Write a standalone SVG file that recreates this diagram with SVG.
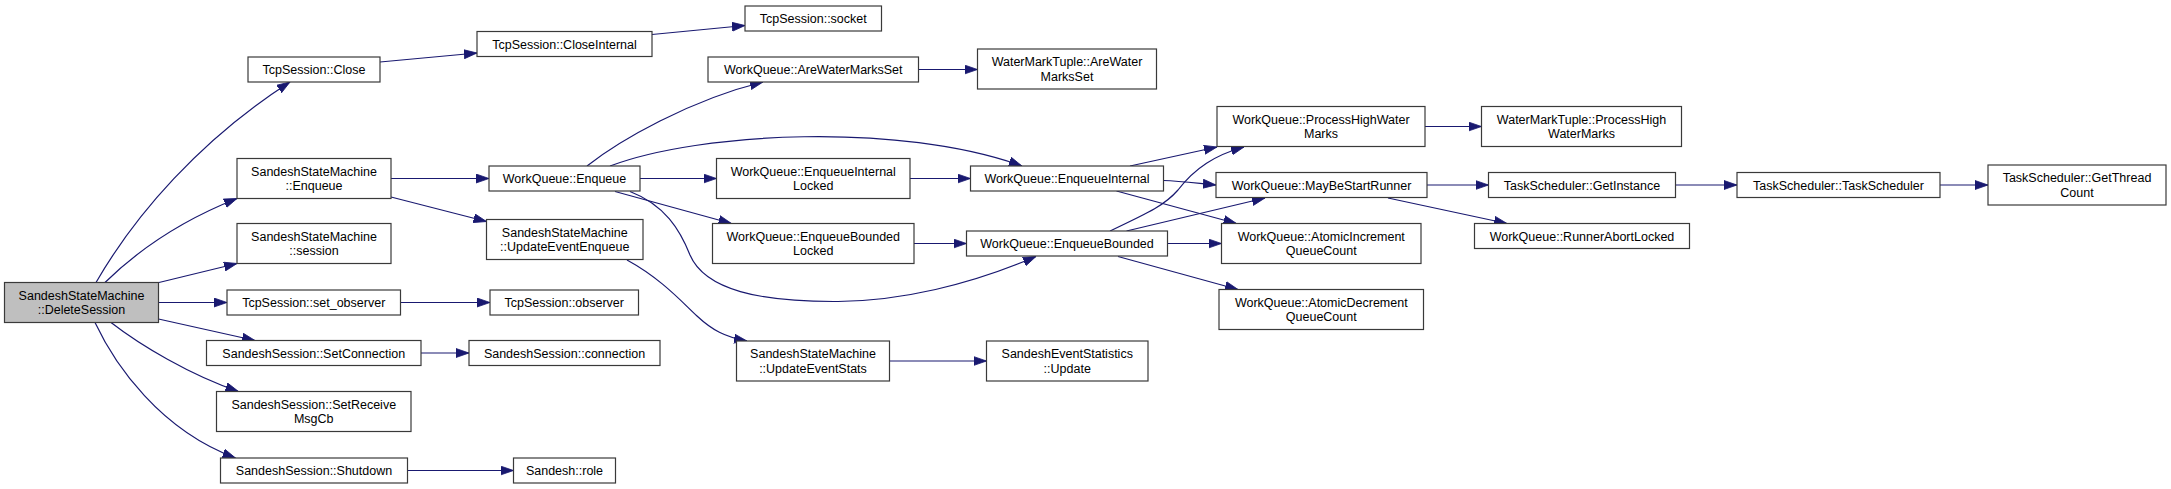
<svg xmlns="http://www.w3.org/2000/svg" width="2171" height="489" viewBox="0 0 2171 489">
<style>
.n rect{fill:#ffffff;stroke:#3a3a3a;stroke-width:1.2}
.n.root rect{fill:#bfbfbf}
.n text{font-family:"Liberation Sans",Arial,Helvetica,sans-serif;font-size:12.5px;fill:#000;text-anchor:middle}
.e path{fill:none;stroke:#191970;stroke-width:1.2;marker-end:url(#ah)}
</style>
<defs>
<marker id="ah" markerUnits="userSpaceOnUse" markerWidth="14" markerHeight="10" viewBox="0 0 14 10" refX="13" refY="5" orient="auto">
<path d="M0,0.5 L13,5 L0,9.5 z" fill="#191970" stroke="#191970" stroke-width="0.8"/>
</marker>
</defs>
<rect x="0" y="0" width="2171" height="489" fill="#ffffff"/>
<g id="edges" class="e">
<path d="M96,282.5 C135,215 200,140 290,82"/>
<path d="M105,282.5 C130,258 170,225 237,198.5"/>
<path d="M159,282.5 L237,263.5"/>
<path d="M158.5,302.5 L227,302.5"/>
<path d="M158.5,319 L255,340.5"/>
<path d="M111,322.5 C140,345 190,375 238.5,391.5"/>
<path d="M95,322.5 C115,365 160,430 235.5,458"/>
<path d="M380,62 L477,53"/>
<path d="M652,34.5 L745,25.5"/>
<path d="M391,178.5 L489,178.5"/>
<path d="M391,197 L486.5,221.5"/>
<path d="M587,166 C620,140 690,100 763,82"/>
<path d="M610,166 C700,132 900,122 1022,166"/>
<path d="M640,178.5 L716.5,178.5"/>
<path d="M615,191.5 L731.5,223.5"/>
<path d="M630,191.5 C665,205 680,230 690,255 C705,290 760,302 838,301.5 C900,301 970,285 1036,256.5"/>
<path d="M918.5,69.5 L977.5,69.5"/>
<path d="M910,178.5 L970.5,178.5"/>
<path d="M914,243.5 L966.5,243.5"/>
<path d="M1130,166 L1217,147"/>
<path d="M1163.5,180.5 C1180,181 1195,183 1216,185"/>
<path d="M1116.5,191 L1236.5,223.5"/>
<path d="M1110,231 C1150,212 1165,205 1178,190 C1195,168 1215,155 1244,147"/>
<path d="M1126.5,231 L1265,198"/>
<path d="M1167.5,243.5 L1221.5,243.5"/>
<path d="M1118,256.5 L1238,289.5"/>
<path d="M1425,126.5 L1481.5,126.5"/>
<path d="M1427,185 L1488.5,185"/>
<path d="M1388,198 L1507,223.5"/>
<path d="M1675.5,185 L1737,185"/>
<path d="M1940,185 L1988,185"/>
<path d="M627,260 C660,278 680,300 697,316 C712,330 725,337 747,341"/>
<path d="M889.5,361 L986.5,361"/>
<path d="M400.5,302.5 L490,302.5"/>
<path d="M421,353 L469,353"/>
<path d="M407.5,470.5 L513.5,470.5"/>
</g>
<g id="n_deletesession" class="n root"><rect x="4.5" y="282.5" width="154" height="40"/><text x="81.5" y="299.8">SandeshStateMachine</text><text x="81.5" y="314.3">::DeleteSession</text></g>
<g id="n_close" class="n"><rect x="248" y="57" width="132" height="25"/><text x="314" y="74">TcpSession::Close</text></g>
<g id="n_closeinternal" class="n"><rect x="477" y="31.5" width="175" height="25"/><text x="564.5" y="48.5">TcpSession::CloseInternal</text></g>
<g id="n_socket" class="n"><rect x="745" y="6" width="136.5" height="25"/><text x="813.25" y="23">TcpSession::socket</text></g>
<g id="n_ssm_enqueue" class="n"><rect x="237" y="158.5" width="154" height="40"/><text x="314" y="175.8">SandeshStateMachine</text><text x="314" y="190.3">::Enqueue</text></g>
<g id="n_wq_enqueue" class="n"><rect x="489" y="166" width="151" height="25"/><text x="564.5" y="183">WorkQueue::Enqueue</text></g>
<g id="n_arewatermarksset" class="n"><rect x="708" y="57" width="210.5" height="25"/><text x="813.25" y="74">WorkQueue::AreWaterMarksSet</text></g>
<g id="n_wmt_arewatermarksset" class="n"><rect x="977.5" y="49" width="179" height="40"/><text x="1067" y="66.3">WaterMarkTuple::AreWater</text><text x="1067" y="80.8">MarksSet</text></g>
<g id="n_enqueueinternallocked" class="n"><rect x="716.5" y="158.5" width="193.5" height="40"/><text x="813.25" y="175.8">WorkQueue::EnqueueInternal</text><text x="813.25" y="190.3">Locked</text></g>
<g id="n_enqueueinternal" class="n"><rect x="970.5" y="166" width="193" height="25"/><text x="1067" y="183">WorkQueue::EnqueueInternal</text></g>
<g id="n_processhighwatermarks" class="n"><rect x="1217" y="106.5" width="208" height="40"/><text x="1321" y="123.8">WorkQueue::ProcessHighWater</text><text x="1321" y="138.3">Marks</text></g>
<g id="n_wmt_processhighwatermarks" class="n"><rect x="1481.5" y="106.5" width="200" height="40"/><text x="1581.5" y="123.8">WaterMarkTuple::ProcessHigh</text><text x="1581.5" y="138.3">WaterMarks</text></g>
<g id="n_maybestartrunner" class="n"><rect x="1216" y="172.5" width="211" height="25"/><text x="1321.5" y="189.5">WorkQueue::MayBeStartRunner</text></g>
<g id="n_getinstance" class="n"><rect x="1488.5" y="172.5" width="187" height="25"/><text x="1582" y="189.5">TaskScheduler::GetInstance</text></g>
<g id="n_taskscheduler" class="n"><rect x="1737" y="172.5" width="203" height="25"/><text x="1838.5" y="189.5">TaskScheduler::TaskScheduler</text></g>
<g id="n_getthreadcount" class="n"><rect x="1988" y="165" width="178" height="40"/><text x="2077" y="182.3">TaskScheduler::GetThread</text><text x="2077" y="196.8">Count</text></g>
<g id="n_runnerabortlocked" class="n"><rect x="1474.5" y="223.5" width="215" height="25"/><text x="1582" y="240.5">WorkQueue::RunnerAbortLocked</text></g>
<g id="n_enqueueboundedlocked" class="n"><rect x="712.5" y="223.5" width="201.5" height="40"/><text x="813.25" y="240.8">WorkQueue::EnqueueBounded</text><text x="813.25" y="255.3">Locked</text></g>
<g id="n_enqueuebounded" class="n"><rect x="966.5" y="231" width="201" height="25"/><text x="1067" y="248">WorkQueue::EnqueueBounded</text></g>
<g id="n_atomicincrement" class="n"><rect x="1221.5" y="223.5" width="199.5" height="40"/><text x="1321.25" y="240.8">WorkQueue::AtomicIncrement</text><text x="1321.25" y="255.3">QueueCount</text></g>
<g id="n_atomicdecrement" class="n"><rect x="1219" y="289.5" width="204.5" height="40"/><text x="1321.25" y="306.8">WorkQueue::AtomicDecrement</text><text x="1321.25" y="321.3">QueueCount</text></g>
<g id="n_session" class="n"><rect x="237" y="223.5" width="154" height="40"/><text x="314" y="240.8">SandeshStateMachine</text><text x="314" y="255.3">::session</text></g>
<g id="n_updateeventenqueue" class="n"><rect x="486.5" y="219.5" width="156.5" height="40"/><text x="564.75" y="236.8">SandeshStateMachine</text><text x="564.75" y="251.3">::UpdateEventEnqueue</text></g>
<g id="n_updateeventstats" class="n"><rect x="736.5" y="341" width="153" height="40"/><text x="813" y="358.3">SandeshStateMachine</text><text x="813" y="372.8">::UpdateEventStats</text></g>
<g id="n_update" class="n"><rect x="986.5" y="341" width="161.5" height="40"/><text x="1067.25" y="358.3">SandeshEventStatistics</text><text x="1067.25" y="372.8">::Update</text></g>
<g id="n_set_observer" class="n"><rect x="227" y="290" width="173.5" height="25"/><text x="313.75" y="307">TcpSession::set_observer</text></g>
<g id="n_observer" class="n"><rect x="490" y="290" width="148.5" height="25"/><text x="564.25" y="307">TcpSession::observer</text></g>
<g id="n_setconnection" class="n"><rect x="206.5" y="340.5" width="214.5" height="25"/><text x="313.75" y="357.5">SandeshSession::SetConnection</text></g>
<g id="n_connection" class="n"><rect x="469" y="340.5" width="191" height="25"/><text x="564.5" y="357.5">SandeshSession::connection</text></g>
<g id="n_setreceivemsgcb" class="n"><rect x="216.5" y="391.5" width="194.5" height="40"/><text x="313.75" y="408.8">SandeshSession::SetReceive</text><text x="313.75" y="423.3">MsgCb</text></g>
<g id="n_shutdown" class="n"><rect x="220.5" y="458" width="187" height="25"/><text x="314" y="475">SandeshSession::Shutdown</text></g>
<g id="n_role" class="n"><rect x="513.5" y="458" width="102" height="25"/><text x="564.5" y="475">Sandesh::role</text></g>
</svg>
